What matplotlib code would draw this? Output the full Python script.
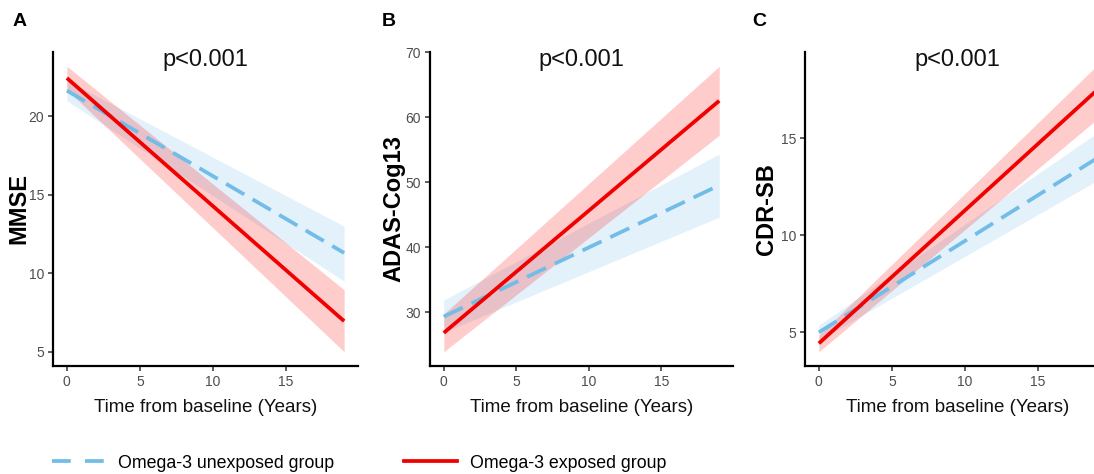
import matplotlib
matplotlib.use("Agg")
import matplotlib.pyplot as plt
from matplotlib.lines import Line2D
import numpy as np

plt.rcParams['font.family'] = ['Liberation Sans', 'DejaVu Sans']

# ---- data (model-predicted trajectories) ----
years = [0, 19]

mmse_unexp = [21.65, 11.3]
mmse_unexp_lo = [21.0, 9.5]
mmse_unexp_hi = [22.3, 13.0]
mmse_exp = [22.45, 6.95]
mmse_exp_lo = [21.7, 5.0]
mmse_exp_hi = [23.2, 8.95]

adas_unexp = [29.3, 49.5]
adas_unexp_lo = [26.9, 44.6]
adas_unexp_hi = [31.85, 54.3]
adas_exp = [26.8, 62.5]
adas_exp_lo = [23.9, 57.2]
adas_exp_hi = [29.7, 67.8]

cdr_unexp = [5.0, 13.95]
cdr_unexp_lo = [4.6, 12.8]
cdr_unexp_hi = [5.38, 15.25]
cdr_exp = [4.43, 17.45]
cdr_exp_lo = [4.0, 15.95]
cdr_exp_hi = [4.85, 18.72]

panel_letters = ["A", "B", "C"]
ylabels = ["MMSE", "ADAS-Cog13", "CDR-SB"]
pvalues = ["p<0.001", "p<0.001", "p<0.001"]
xlabel = "Time from baseline (Years)"
xticks = [0, 5, 10, 15]
yticks = [[5, 10, 15, 20], [30, 40, 50, 60, 70], [5, 10, 15]]
legend_labels = ["Omega-3 unexposed group", "Omega-3 exposed group"]

panels = [
    (mmse_unexp, mmse_unexp_lo, mmse_unexp_hi, mmse_exp, mmse_exp_lo, mmse_exp_hi),
    (adas_unexp, adas_unexp_lo, adas_unexp_hi, adas_exp, adas_exp_lo, adas_exp_hi),
    (cdr_unexp, cdr_unexp_lo, cdr_unexp_hi, cdr_exp, cdr_exp_lo, cdr_exp_hi),
]

BLUE = "#72BCE8"
RED = "#F20000"
LW = 2.7

W, H = 1094, 474
fig = plt.figure(figsize=(W / 100, H / 100), dpi=100)

# axes pixel boxes: (left, right, top, bottom)
boxes = [(53, 358, 52, 366), (430, 733, 52, 366), (805, 1110, 52, 366)]
ylabel_x = [19, 394, 767]
letter_x = [13, 382, 752]

for i, (box, data) in enumerate(zip(boxes, panels)):
    l, r, t, b = box
    ax = fig.add_axes([l / W, 1 - b / H, (r - l) / W, (b - t) / H])
    u, ulo, uhi, e, elo, ehi = data
    ax.fill_between(years, ulo, uhi, color=BLUE, alpha=0.2, lw=0)
    ax.plot(years, u, color=BLUE, lw=LW, dashes=(5.6, 2.6), dash_capstyle='butt')
    ax.fill_between(years, elo, ehi, color="#FF0000", alpha=0.2, lw=0)
    ax.plot(years, e, color=RED, lw=LW, solid_capstyle='butt')

    ymin = min(min(ulo), min(elo))
    ymax = max(max(uhi), max(ehi))
    pad = 0.05 * (ymax - ymin)
    ax.set_ylim(ymin - pad, ymax + pad)
    ax.set_xlim(-0.95, 19.95)
    ax.set_xticks(xticks)
    ax.set_yticks(yticks[i])

    for s in ["top", "right"]:
        ax.spines[s].set_visible(False)
    for s in ["left", "bottom"]:
        ax.spines[s].set_linewidth(1.6)
        ax.spines[s].set_color("black")
    ax.tick_params(axis='both', length=3.5, width=1.1, color="#333333",
                   labelsize=10, labelcolor="#4D4D4D", pad=3)

    ax.set_ylabel(ylabels[i], fontsize=17, fontweight='bold', va='center')
    ax.yaxis.set_label_coords((ylabel_x[i] - l) / (r - l), 0.5)
    ax.set_xlabel(xlabel, fontsize=13.5, va='center', color="#111111")
    ax.xaxis.set_label_coords(0.5, (b - 408) / (b - t))

    ax.text(0.5, (b - 60) / (b - t), pvalues[i], transform=ax.transAxes,
            ha='center', va='center', fontsize=17, color="#111111")

    fig.text(letter_x[i] / W, 1 - 22 / H, panel_letters[i], fontsize=14,
             fontweight='bold', ha='left', va='center')

handles = [
    Line2D([], [], color=BLUE, lw=LW, dashes=(5.0, 3.8)),
    Line2D([], [], color=RED, lw=LW),
]
fig.legend(handles, legend_labels, loc='center left', ncol=2,
           bbox_to_anchor=(52 / W, 1 - 463 / H), frameon=False,
           fontsize=12.8, handlelength=3.0, handletextpad=0.72,
           columnspacing=3.9, borderaxespad=0, borderpad=0)

fig.savefig("out.png", dpi=100)
